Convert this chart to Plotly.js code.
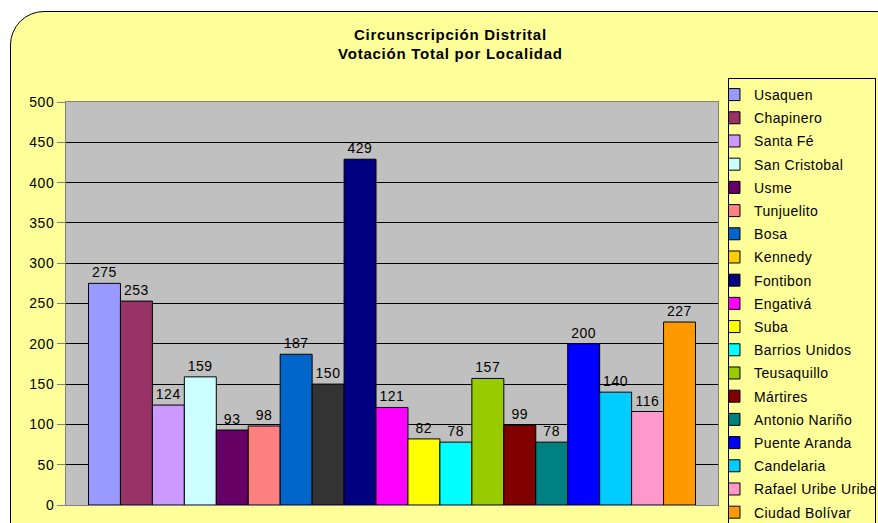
<!DOCTYPE html>
<html>
<head>
<meta charset="utf-8">
<script src="https://cdn.plot.ly/plotly-3.0.1.min.js"></script>
<style>
  html, body { margin: 0; padding: 0; background: #ffffff; overflow: hidden; }
  #wrap { position: relative; width: 878px; height: 523px; overflow: hidden; }
  #frame { position: absolute; left: 10px; top: 11px; width: 900px; height: 560px;
           background: #FFFF99; border: 1px solid #000; border-radius: 34px; box-sizing: border-box; }
  #chart { position: absolute; left: 0; top: 0; width: 878px; height: 523px; }
  #chart .legendtext { letter-spacing: 0.4px; }
  #chart .gtitle { letter-spacing: 0.75px; }
  #chart .bartext { letter-spacing: 0.5px; }
  #chart .ytick text { letter-spacing: 0.5px; }
</style>
</head>
<body>
<div id="wrap">
  <div id="frame"></div>
  <div id="chart"></div>
</div>
<script>
const localidades = ["Usaquen", "Chapinero", "Santa Fé", "San Cristobal", "Usme", "Tunjuelito",
  "Bosa", "Kennedy", "Fontibon", "Engativá", "Suba", "Barrios Unidos", "Teusaquillo",
  "Mártires", "Antonio Nariño", "Puente Aranda", "Candelaria", "Rafael Uribe Uribe", "Ciudad Bolívar"];
const votos = [275, 253, 124, 159, 93, 98, 187, 150, 429, 121, 82, 78, 157, 99, 78, 200, 140, 116, 227];
const barColors = ["#9999FF", "#993366", "#CC99FF", "#CCFFFF", "#660066", "#FF8080",
  "#0066CC", "#333333", "#000080", "#FF00FF", "#FFFF00", "#00FFFF", "#99CC00",
  "#800000", "#008080", "#0000FF", "#00CCFF", "#FF99CC", "#FF9900"];
const legendColors = ["#9999FF", "#993366", "#CC99FF", "#CCFFFF", "#660066", "#FF8080",
  "#0066CC", "#FFCC00", "#000080", "#FF00FF", "#FFFF00", "#00FFFF", "#99CC00",
  "#800000", "#008080", "#0000FF", "#00CCFF", "#FF99CC", "#FF9900"];
const yTicks = [0, 50, 100, 150, 200, 250, 300, 350, 400, 450, 500];
const category = [""];

const FONT = "Liberation Sans, Arial, sans-serif";
const traces = [];
localidades.forEach((name, i) => {
  const sameColor = barColors[i] === legendColors[i];
  traces.push({
    type: "bar",
    name: name,
    x: category,
    y: [votos[i]],
    text: [String(votos[i])],
    textposition: "outside",
    cliponaxis: false,
    textfont: { family: FONT, size: 14, color: "#000" },
    marker: { color: barColors[i], line: { color: "#000", width: 1 } },
    showlegend: sameColor,
    legendgroup: "g" + i,
    legendrank: i + 1,
    hoverinfo: "name+y"
  });
  if (!sameColor) {
    traces.push({
      type: "bar",
      name: name,
      x: category,
      y: [null],
      xaxis: "x2",
      marker: { color: legendColors[i], line: { color: "#000", width: 1 } },
      showlegend: true,
      legendgroup: "g" + i,
      legendrank: i + 1,
      hoverinfo: "skip"
    });
  }
});

const layout = {
  width: 878, height: 523,
  paper_bgcolor: "rgba(0,0,0,0)",
  plot_bgcolor: "#C0C0C0",
  margin: { l: 66, r: 160, t: 102, b: 18, pad: 0, autoexpand: false },
  font: { family: FONT, size: 14, color: "#000" },
  title: {
    text: "<b>Circunscripción Distrital<br>Votación Total por Localidad</b>",
    font: { family: FONT, size: 15, color: "#000" },
    x: 0.513, xanchor: "center", xref: "container",
    y: 0.924, yanchor: "top", yref: "container"
  },
  barmode: "group",
  bargap: 0.069,
  bargroupgap: 0,
  showlegend: true,
  legend: {
    x: 1.0153, xanchor: "left", y: 1.0596, yanchor: "top",
    bgcolor: "#FFFF99", bordercolor: "#000", borderwidth: 1,
    font: { family: FONT, size: 14, color: "#000" },
    tracegroupgap: 2,
    traceorder: "grouped",
    indentation: -15,
    maxheight: 1
  },
  xaxis: {
    type: "category",
    showticklabels: false, ticks: "",
    showline: true, linecolor: "#808080", linewidth: 1, mirror: true,
    showgrid: false, zeroline: false, fixedrange: true
  },
  xaxis2: {
    type: "category", overlaying: "x", visible: false, fixedrange: true
  },
  yaxis: {
    range: [0, 500],
    tickvals: yTicks,
    ticktext: yTicks.map(String),
    ticks: "outside", ticklen: 8, tickcolor: "#808080",
    showline: true, linecolor: "#808080", linewidth: 1, mirror: true,
    showgrid: true, gridcolor: "#000", gridwidth: 1,
    zeroline: false,
    tickfont: { family: FONT, size: 14, color: "#000" },
    fixedrange: true
  }
};

Plotly.newPlot("chart", traces, layout, { displayModeBar: false, staticPlot: true });
</script>
</body>
</html>
